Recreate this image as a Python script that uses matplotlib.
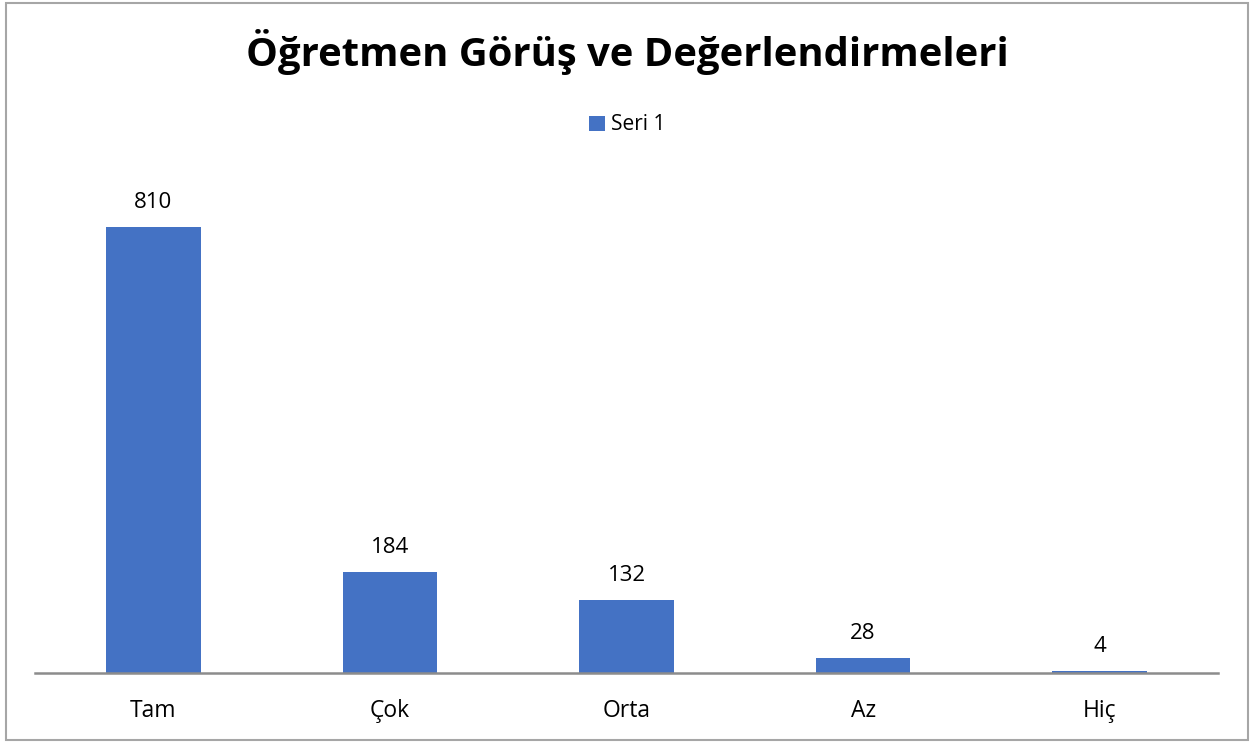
import matplotlib.pyplot as plt
from matplotlib.patches import Rectangle

categories = ['Tam', 'Çok', 'Orta', 'Az', 'Hiç']
values = [810, 184, 132, 28, 4]
series_name = 'Seri 1'
title = 'Öğretmen Görüş ve Değerlendirmeleri'

bar_color = '#4472C4'
W, H = 1254, 743

plt.rcParams['font.family'] = ['Open Sans', 'DejaVu Sans']

fig = plt.figure(figsize=(W / 100, H / 100), dpi=100)

# chart border
fig.patches.append(Rectangle((6 / W, 3 / H), (1248 - 6) / W, (740 - 3) / H,
                             transform=fig.transFigure, fill=False,
                             edgecolor='#a6a6a6', linewidth=1.5))

ax_left, ax_right = 35 / W, 1218 / W
ax_bottom, ax_top = 1 - 673 / H, 1 - 160 / H
ax = fig.add_axes([ax_left, ax_bottom, ax_right - ax_left, ax_top - ax_bottom])

x = range(len(categories))
bars = ax.bar(x, values, width=0.4, color=bar_color, label=series_name)
ax.set_xlim(-0.5, len(categories) - 0.5)
ax.set_ylim(0, 810 * (673 - 160) / (673 - 227))

for xi, v in zip(x, values):
    ax.annotate(str(v), (xi, v), xytext=(0, 10), textcoords='offset points',
                ha='center', va='bottom', fontsize=16, color='#000000')

for s in ['top', 'right', 'left']:
    ax.spines[s].set_visible(False)
ax.spines['bottom'].set_color('#8c8c8c')
ax.spines['bottom'].set_linewidth(1.8)
ax.set_yticks([])
ax.set_xticks(list(x))
ax.set_xticklabels(categories, fontsize=16.5)
ax.tick_params(axis='x', length=0, pad=19)

fig.text(0.5, 1 - 52 / H, title, ha='center', va='center',
         fontsize=28.8, fontweight='bold')

fig.legend(loc='center', bbox_to_anchor=(627 / W, 1 - 125 / H), frameon=False,
           fontsize=15, handlelength=0.75, handleheight=0.75, handletextpad=0.3)

fig.savefig('out.png', dpi=100)
